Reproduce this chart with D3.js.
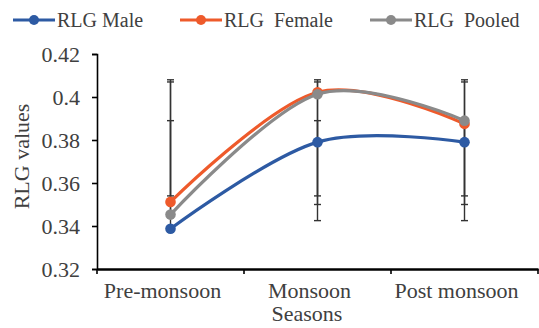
<!DOCTYPE html>
<html>
<head>
<meta charset="utf-8">
<script src="https://cdn.jsdelivr.net/npm/d3@7"></script>
<style>
  body { margin: 0; background: #fff; }
  svg text { font-family: "Liberation Serif", "Times New Roman", Times, serif !important; fill: #404040; }
</style>
</head>
<body>
<script>
//chart data
var seasons = ['Pre-monsoon', 'Monsoon', 'Post monsoon'];
var seriesNames = ['RLG Male', 'RLG  Female', 'RLG  Pooled'];
var maleVals = [0.3387, 0.379, 0.379];
var femaleVals = [0.3512, 0.4022, 0.3875];
var pooledVals = [0.3453, 0.4013, 0.389];
// error bar ends (low, high)
var maleLo = [0.3375, 0.350, 0.350];
var maleHi = [0.389, 0.408, 0.408];
var femaleLo = [0.354, 0.3425, 0.3425];
var femaleHi = [0.408, 0.407, 0.407];
var pooledLo = [0.3445, 0.354, 0.354];
var pooledHi = [0.407, 0.389, 0.389];
var yTicks = [0.32, 0.34, 0.36, 0.38, 0.4, 0.42];

var colors = ['#2D5AA3', '#EE5A2B', '#8A8A8A'];

var margin = {top: 54, right: 1, bottom: 59, left: 97};
var W = 539, H = 328;
var w = W - margin.left - margin.right;
var h = H - margin.top - margin.bottom;

var series = [
  {name: seriesNames[0], vals: maleVals, lo: maleLo, hi: maleHi, color: colors[0]},
  {name: seriesNames[1], vals: femaleVals, lo: femaleLo, hi: femaleHi, color: colors[1]},
  {name: seriesNames[2], vals: pooledVals, lo: pooledLo, hi: pooledHi, color: colors[2]}
];

var svg = d3.select('body').append('svg')
  .attr('width', W)
  .attr('height', H)
  .attr('font-family', '"Liberation Serif", serif');

var xScale = d3.scaleBand().domain(seasons).range([margin.left, margin.left + w]);
var yScale = d3.scaleLinear().domain([0.32, 0.42]).range([margin.top + h, margin.top]);
var xc = function (i) { return xScale(seasons[i]) + xScale.bandwidth() / 2; };

//y axis
var yAxis = d3.axisLeft(yScale)
  .tickValues(yTicks)
  .tickSize(5)
  .tickPadding(12)
  .tickFormat(function (d) { return d3.format('')(+d.toFixed(2)); });
var gy = svg.append('g')
  .attr('transform', 'translate(' + margin.left + ',0)')
  .call(yAxis)
  .attr('font-family', null);
gy.select('.domain').attr('stroke', '#000').attr('stroke-width', 1.6);
gy.selectAll('.tick line').attr('stroke', '#000').attr('stroke-width', 1.6);
gy.selectAll('.tick text').style('font-size', '22px').attr('fill', '#404040');

//x axis - labels centred in bands, ticks on band edges
var xAxis = d3.axisBottom(xScale).tickSize(0).tickPadding(13);
var gx = svg.append('g')
  .attr('transform', 'translate(0,' + (margin.top + h) + ')')
  .call(xAxis)
  .attr('font-family', null);
gx.select('.domain').attr('stroke', '#000').attr('stroke-width', 2.4);
gx.selectAll('.tick text').style('font-size', '22px').attr('fill', '#404040')
  .attr('dx', -8);
var edges = [xScale.range()[0]].concat(seasons.map(function (s) { return xScale(s) + xScale.bandwidth(); }));
gx.selectAll('line.edge')
  .data(edges)
  .enter().append('line')
  .attr('class', 'edge')
  .attr('x1', d => d).attr('x2', d => d)
  .attr('y1', 0).attr('y2', 5)
  .attr('stroke', '#000').attr('stroke-width', 1.6);

//axis titles
svg.append('text')
  .attr('transform', 'translate(21,' + (margin.top + h / 2 - 5) + ') rotate(-90)')
  .attr('text-anchor', 'middle')
  .attr('dy', '0.35em')
  .style('font-size', '22px')
  .text('RLG values');
svg.append('text')
  .attr('x', 307)
  .attr('y', H - 7)
  .attr('text-anchor', 'middle')
  .style('font-size', '22px')
  .text('Seasons');

//error bars
var eb = svg.append('g');
series.forEach(function (s) {
  s.vals.forEach(function (v, i) {
    var x = xc(i);
    eb.append('line')
      .attr('x1', x).attr('x2', x)
      .attr('y1', yScale(s.lo[i])).attr('y2', yScale(s.hi[i]))
      .attr('stroke', '#333').attr('stroke-width', 1.4);
    [s.lo[i], s.hi[i]].forEach(function (e) {
      eb.append('line')
        .attr('x1', x - 3.5).attr('x2', x + 3.5)
        .attr('y1', yScale(e)).attr('y2', yScale(e))
        .attr('stroke', '#333').attr('stroke-width', 1.4);
    });
  });
});

//smoothed lines + markers
var line = d3.line()
  .x(function (d, i) { return xc(i); })
  .y(function (d) { return yScale(d); })
  .curve(d3.curveCardinal.tension(0));
series.forEach(function (s) {
  var g = svg.append('g');
  g.append('path')
    .datum(s.vals)
    .attr('d', line)
    .attr('fill', 'none')
    .attr('stroke', s.color)
    .attr('stroke-width', 3.2);
  g.selectAll('circle')
    .data(s.vals)
    .enter().append('circle')
    .attr('cx', (d, i) => xc(i))
    .attr('cy', d => yScale(d))
    .attr('r', 5.3)
    .attr('fill', s.color);
});

//legend
var legendX = [13, 180, 370];
var legend = svg.append('g').attr('transform', 'translate(0,20)');
series.forEach(function (s, i) {
  var lg = legend.append('g').attr('transform', 'translate(' + legendX[i] + ',0)');
  lg.append('line')
    .attr('x1', 0).attr('x2', 42)
    .attr('stroke', s.color).attr('stroke-width', 3.2);
  lg.append('circle').attr('cx', 21).attr('r', 5).attr('fill', s.color);
  lg.append('text')
    .attr('x', 44)
    .attr('y', 7)
    .style('font-size', '20px')
    .style('white-space', 'pre')
    .attr('xml:space', 'preserve')
    .text(s.name);
});
</script>
</body>
</html>
